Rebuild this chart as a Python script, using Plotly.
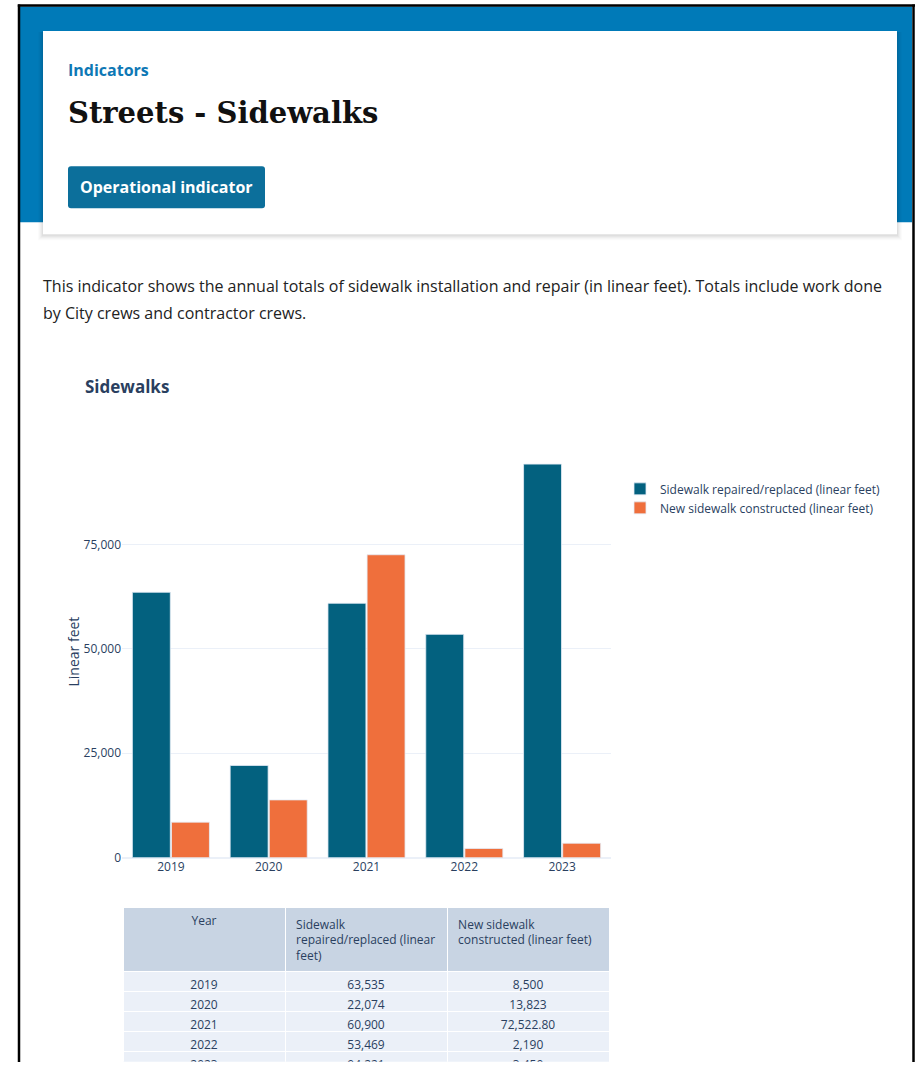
import plotly.graph_objects as go

# ---- data -------------------------------------------------------------
years = ["2019", "2020", "2021", "2022", "2023"]
repaired = [63535, 22074, 60900, 53469, 94221]
constructed = [8500, 13823, 72522.80, 2190, 3450]
series_names = [
    "Sidewalk repaired/replaced (linear feet)",
    "New sidewalk constructed (linear feet)",
]
table_headers = [
    "Year",
    "\u00a0Sidewalk<br>\u00a0repaired/replaced (linear<br>\u00a0feet)",
    "\u00a0New sidewalk<br>\u00a0constructed (linear feet)",
]
y_ticks = [0, 25000, 50000, 75000]

# ---- page geometry (pixels) -----------------------------------------
W, H = 920, 1070
VH = 1061.2  # vertical extent the layout is laid out against


def px(x):
    return x / W


def py(y):
    return max(0.0, 1 - y / VH)


TEAL = "#03617f"
ORANGE = "#ef6f3c"
INK = "#2a3f5f"
BAND = "#007ab8"
BUTTON = "#0c6f9b"

fig = go.Figure()

fig.add_trace(go.Bar(
    x=years, y=repaired, name=series_names[0],
    marker=dict(color=TEAL, line=dict(color="#E5ECF6", width=0.8)),
))
fig.add_trace(go.Bar(
    x=years, y=constructed, name=series_names[1],
    marker=dict(color=ORANGE, line=dict(color="#E5ECF6", width=0.8)),
))


def fmt(v):
    if float(v).is_integer():
        return f"{int(v):,}"
    return f"{v:,.2f}"


fig.add_trace(go.Table(
    domain=dict(x=[px(123), px(610)], y=[py(1062), py(907)]),
    columnwidth=[1, 1, 1],
    header=dict(
        values=table_headers,
        align=["center", "left", "left"],
        fill_color="#C8D4E3",
        line_color="white",
        font=dict(family="Open Sans", size=12, color=INK),
        height=63,
    ),
    cells=dict(
        values=[years, [fmt(v) for v in repaired], [fmt(v) for v in constructed]],
        align="center",
        fill_color="#EBF0F8",
        line_color="white",
        font=dict(family="Open Sans", size=12, color=INK),
        height=20,
    ),
))

# ---- header band, card, button ----------------------------------------
shapes = []
# blue band
shapes.append(dict(type="rect", xref="paper", yref="paper",
                   x0=px(20), x1=px(912), y0=py(222), y1=py(6.5),
                   fillcolor=BAND, line=dict(width=0), layer="below"))
# soft card shadow
for i, a in enumerate([0.035, 0.03, 0.025, 0.02, 0.015]):
    g = i + 1
    shapes.append(dict(type="rect", xref="paper", yref="paper",
                       x0=px(43 - g), x1=px(897 + g), y0=py(234 + g + 1), y1=py(31 + 1),
                       fillcolor=f"rgba(0,0,0,{a})", line=dict(width=0), layer="below"))
# card
shapes.append(dict(type="rect", xref="paper", yref="paper",
                   x0=px(43), x1=px(897), y0=py(234), y1=py(31),
                   fillcolor="white", line=dict(width=0), layer="below"))


def rounded_rect(x0, y0, x1, y1, r):
    X0, X1 = px(x0), px(x1)
    Y0, Y1 = py(y0), py(y1)
    rx, ry = r / W, r / H
    return (f"M {X0 + rx},{Y0} L {X1 - rx},{Y0} Q {X1},{Y0} {X1},{Y0 - ry} "
            f"L {X1},{Y1 + ry} Q {X1},{Y1} {X1 - rx},{Y1} "
            f"L {X0 + rx},{Y1} Q {X0},{Y1} {X0},{Y1 + ry} "
            f"L {X0},{Y0 - ry} Q {X0},{Y0} {X0 + rx},{Y0} Z")


shapes.append(dict(type="path", xref="paper", yref="paper",
                   path=rounded_rect(68, 166, 265, 208, 3),
                   fillcolor=BUTTON, line=dict(width=0), layer="below"))
# page frame
shapes.append(dict(type="line", xref="paper", yref="paper",
                   x0=px(19), x1=px(19), y0=py(4.5), y1=0,
                   line=dict(color="black", width=2.5)))
shapes.append(dict(type="line", xref="paper", yref="paper",
                   x0=px(17.8), x1=px(915), y0=py(5.5), y1=py(5.5),
                   line=dict(color="black", width=2.5)))
shapes.append(dict(type="line", xref="paper", yref="paper",
                   x0=px(913.5), x1=px(913.5), y0=py(4.5), y1=0,
                   line=dict(color="black", width=2.5)))

annotations = [
    dict(text="<b>Indicators</b>", x=px(66), y=py(70),
         font=dict(family="Open Sans", size=16, color="#0e78b5")),
    dict(text="<b>Streets - Sidewalks</b>", x=px(66), y=py(113),
         font=dict(family="DejaVu Serif", size=29, color="#111111")),
    dict(text="<b>Operational indicator</b>", x=px(166.5), y=py(187), xanchor="center",
         font=dict(family="Open Sans", size=16, color="white")),
    dict(text="This indicator shows the annual totals of sidewalk installation and repair "
              "(in linear feet). Totals include work done",
         x=px(41), y=py(286), font=dict(family="Open Sans", size=16, color="#222222")),
    dict(text="by City crews and contractor crews.", x=px(41), y=py(313),
         font=dict(family="Open Sans", size=16, color="#222222")),
    dict(text="<b>Sidewalks</b>", x=px(83), y=py(386),
         font=dict(family="Open Sans", size=17, color=INK)),
    dict(text="Linear feet", x=px(73), y=py(651), xanchor="center", textangle=-90,
         font=dict(family="Open Sans", size=14, color=INK)),
]
for a in annotations:
    a.setdefault("xref", "paper")
    a.setdefault("yref", "paper")
    a.setdefault("xanchor", "left")
    a.setdefault("yanchor", "middle")
    a["showarrow"] = False

fig.update_layout(
    template="plotly_white",
    width=W, height=H,
    margin=dict(l=0, r=0, t=0, b=0),
    paper_bgcolor="white",
    plot_bgcolor="white",
    font=dict(family="Open Sans", size=12, color=INK),
    barmode="group",
    bargap=0.2,
    bargroupgap=0.03,
    shapes=shapes,
    annotations=annotations,
    showlegend=True,
    legend=dict(x=px(620), y=py(474), xanchor="left", yanchor="top",
                font=dict(size=12, color=INK), bgcolor="rgba(0,0,0,0)"),
    xaxis=dict(domain=[px(122), px(611)], type="category",
               showgrid=False, ticks="", tickfont=dict(size=12)),
    yaxis=dict(domain=[py(857), py(444)], range=[0, 98960],
               tickvals=y_ticks, tickformat=",", gridcolor="#EBF0F8",
               zerolinecolor="#EBF0F8", tickfont=dict(size=12)),
)

fig.write_html("out.html")
